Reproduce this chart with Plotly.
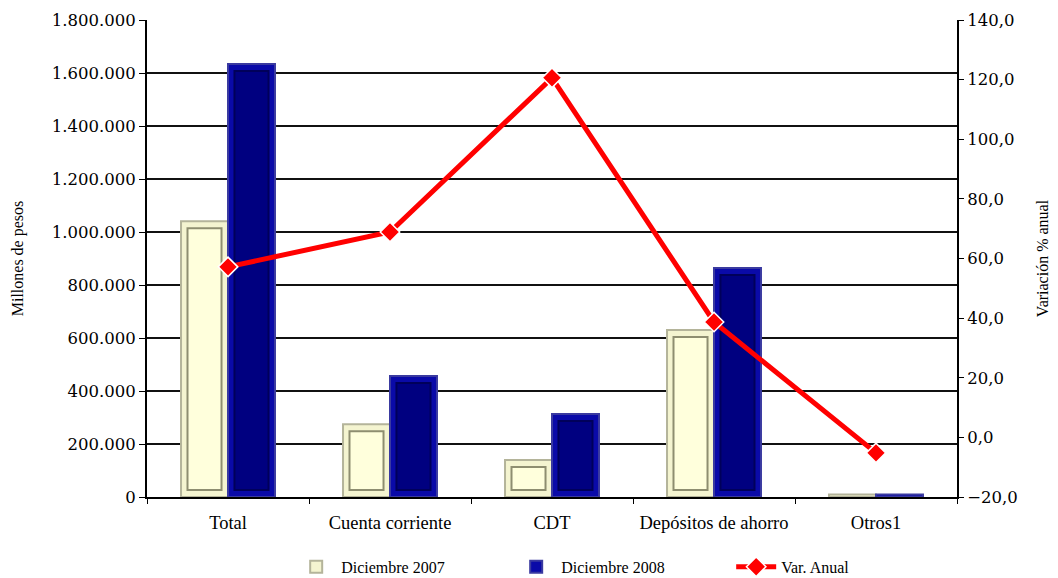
import plotly.graph_objects as go

categorias = ["Total", "Cuenta corriente", "CDT", "Depósitos de ahorro", "Otros1"]
dic_2007 = [1041000, 275000, 140000, 630000, 9000]
dic_2008 = [1634000, 457000, 313000, 864000, 9000]
var_anual = [57.2, 68.9, 120.6, 38.7, -5.2]

left_ticks = [0, 200000, 400000, 600000, 800000, 1000000, 1200000, 1400000, 1600000, 1800000]
right_ticks = [-20, 0, 20, 40, 60, 80, 100, 120, 140]

serif = "'DejaVu Serif', serif"
times = "'Liberation Serif', 'Times New Roman', serif"

Y_MAX = 1800000
BAR_W = 0.29
INSET_X = 0.04
INSET_Y = Y_MAX * 7 / 477  # bevel depth, ~7 px


def inner(vals):
    return [v - 2 * INSET_Y if v > 3 * INSET_Y else None for v in vals]


fig = go.Figure()
# outer bars
fig.add_trace(go.Bar(
    x=categorias, y=dic_2007, name="Diciembre 2007", width=BAR_W, offset=-BAR_W,
    marker=dict(color="#F4F4D0", line=dict(color="#B4B49A", width=2)),
))
fig.add_trace(go.Bar(
    x=categorias, y=dic_2008, name="Diciembre 2008", width=BAR_W, offset=0,
    marker=dict(color="#0A0AA8", line=dict(color="#3A3AA0", width=2)),
))
# inner bevel faces
fig.add_trace(go.Bar(
    x=categorias, y=inner(dic_2007), base=INSET_Y, width=BAR_W - 2 * INSET_X, offset=-BAR_W + INSET_X,
    marker=dict(color="#FFFFDC", line=dict(color="#8E8E70", width=2)),
    showlegend=False, hoverinfo="skip",
))
fig.add_trace(go.Bar(
    x=categorias, y=inner(dic_2008), base=INSET_Y, width=BAR_W - 2 * INSET_X, offset=INSET_X,
    marker=dict(color="#000080", line=dict(color="#00005A", width=2)),
    showlegend=False, hoverinfo="skip",
))
fig.add_trace(go.Scatter(
    x=categorias, y=var_anual, name="Var. Anual", yaxis="y2",
    mode="lines+markers",
    line=dict(color="#FF0000", width=5),
    marker=dict(symbol="diamond", size=15, color="#FF0000", line=dict(color="white", width=1.5)),
))

fig.update_layout(
    width=1050, height=570,
    margin=dict(l=139, r=101, t=12, b=81, autoexpand=False),
    paper_bgcolor="white", plot_bgcolor="white",
    separators=",.",
    barmode="overlay",
    font=dict(family=serif, size=14, color="black"),
    showlegend=True,
    legend=dict(orientation="h", x=0.178, xanchor="left", y=-0.182, yanchor="bottom",
                font=dict(family=times, size=16), itemwidth=40,
                entrywidth=165, tracegroupgap=0),
    xaxis=dict(
        tickfont=dict(family=times, size=18.5),
        showline=True, linecolor="black", linewidth=2,
        ticks="outside", ticklen=5, tickcolor="black", tickson="boundaries",
        ticklabelstandoff=8,
        showgrid=False, automargin=False,
    ),
    yaxis=dict(
        range=[0, Y_MAX], tickvals=left_ticks, tickformat=",.0f",
        showline=True, linecolor="black", linewidth=2,
        ticks="outside", ticklen=6, tickcolor="black",
        showgrid=True, gridcolor="#111111", gridwidth=1.5,
        zeroline=False, automargin=False,
        title=dict(text="Millones de pesos", font=dict(family=times, size=16), standoff=24),
        tickfont=dict(family=serif, size=16.5),
    ),
    yaxis2=dict(
        range=[-20, 140], tickvals=right_ticks, tickformat=".1f",
        overlaying="y", side="right",
        showline=True, linecolor="black", linewidth=2,
        ticks="outside", ticklen=5, tickcolor="black",
        showgrid=False, zeroline=False, automargin=False,
        title=dict(text="Variación % anual", font=dict(family=times, size=16), standoff=20),
        tickfont=dict(family=serif, size=16.5),
    ),
)

fig.write_html("out.html")
